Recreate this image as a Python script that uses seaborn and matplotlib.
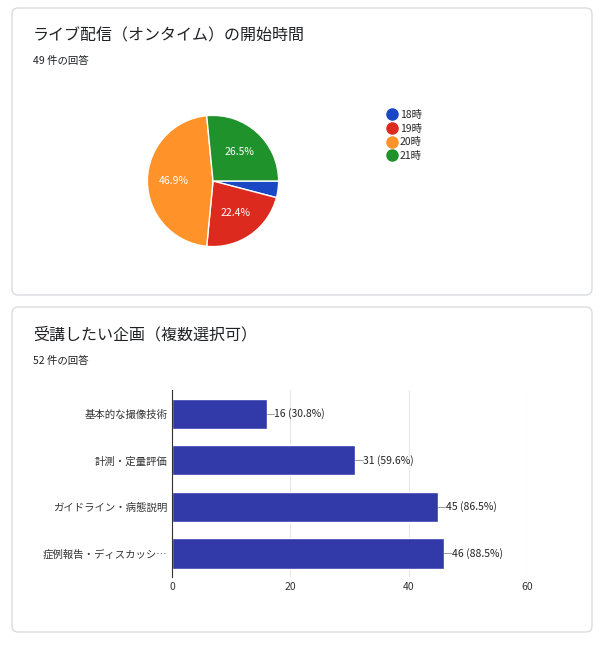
import matplotlib
matplotlib.use("Agg")
import numpy as np
import matplotlib.pyplot as plt
import seaborn as sns
from matplotlib.patches import FancyBboxPatch
from matplotlib.lines import Line2D

sns.set_style("white")
plt.rcParams['font.family'] = ['Noto Sans CJK JP', 'DejaVu Sans']

# データ
pie_labels = ['18時', '19時', '20時', '21時']
pie_counts = [2, 11, 23, 13]
pie_colors = ['#1a47c4', '#dc2b1e', '#ff9228', '#20922b']

bar_labels = ['基本的な撮像技術', '計測・定量評価', 'ガイドライン・病態説明', '症例報告・ディスカッシ…']
bar_counts = [16, 31, 45, 46]
bar_pcts = ['30.8%', '59.6%', '86.5%', '88.5%']

W, H = 604, 645
fig = plt.figure(figsize=(W / 100, H / 100), dpi=100)
fig.patch.set_facecolor('white')

def px(x, y, w, h):
    return [x / W, 1 - (y + h) / H, w / W, h / H]

# カード枠
for (y0, h0) in [(8, 287), (307, 325)]:
    fig.patches.append(FancyBboxPatch((12 / W, 1 - (y0 + h0) / H), 580 / W, h0 / H,
                                      boxstyle="round,pad=0,rounding_size=0.01",
                                      transform=fig.transFigure, fc='white', ec='#dadce0',
                                      lw=1, zorder=-5))

fig.text(33 / W, 1 - 36 / H, 'ライブ配信（オンタイム）の開始時間', fontsize=11.5, va='center', color='#202124')
fig.text(33 / W, 1 - 61 / H, '49 件の回答', fontsize=7.5, va='center', color='#202124')
fig.text(33 / W, 1 - 335 / H, '受講したい企画（複数選択可）', fontsize=11.5, va='center', color='#202124')
fig.text(33 / W, 1 - 361 / H, '52 件の回答', fontsize=7.5, va='center', color='#202124')

# 円グラフ
ax1 = fig.add_axes(px(131, 99, 164, 164))
ax1.patch.set_alpha(0)
wedges, texts = ax1.pie(pie_counts, colors=pie_colors, startangle=0, counterclock=False,
                        wedgeprops=dict(edgecolor='white', linewidth=1))
total = sum(pie_counts)
for w, c in zip(wedges, pie_counts):
    if c / total < 0.1:
        continue
    ang = np.deg2rad((w.theta1 + w.theta2) / 2)
    ax1.text(0.6 * np.cos(ang), 0.6 * np.sin(ang), f'{c / total * 100:.1f}%',
             ha='center', va='center', color='white', fontsize=7.5)
ax1.set_aspect('equal')
handles = [Line2D([], [], marker='o', ls='', color=c, markersize=8) for c in pie_colors]
ax1.legend(handles, pie_labels, loc='upper left', bbox_to_anchor=(1.5, 0.99), frameon=False,
           fontsize=7.5, handletextpad=0.3, labelspacing=0.35, handlelength=1)

# 棒グラフ
ax2 = fig.add_axes(px(172, 390, 355, 187))
ax2.patch.set_alpha(0)
sns.barplot(x=bar_counts, y=bar_labels, color='#3239a8', saturation=1, width=0.65, ax=ax2, orient='h')
ax2.set_xlim(0, 60)
ax2.set_xticks([0, 20, 40, 60])
ax2.grid(axis='x', color='#e8e8e8', lw=0.8)
ax2.set_axisbelow(True)
for s in ['top', 'right', 'bottom']:
    ax2.spines[s].set_visible(False)
ax2.spines['left'].set_color('#333333')
ax2.tick_params(axis='both', labelsize=7.5, length=0, colors='#333333')
for i, (c, p) in enumerate(zip(bar_counts, bar_pcts)):
    ax2.plot([c, c + 1.2], [i, i], color='#999999', lw=0.7)
    ax2.text(c + 1.3, i, f'{c} ({p})', va='center', fontsize=7.5, color='#222222')

fig.savefig('out.png', dpi=100)
